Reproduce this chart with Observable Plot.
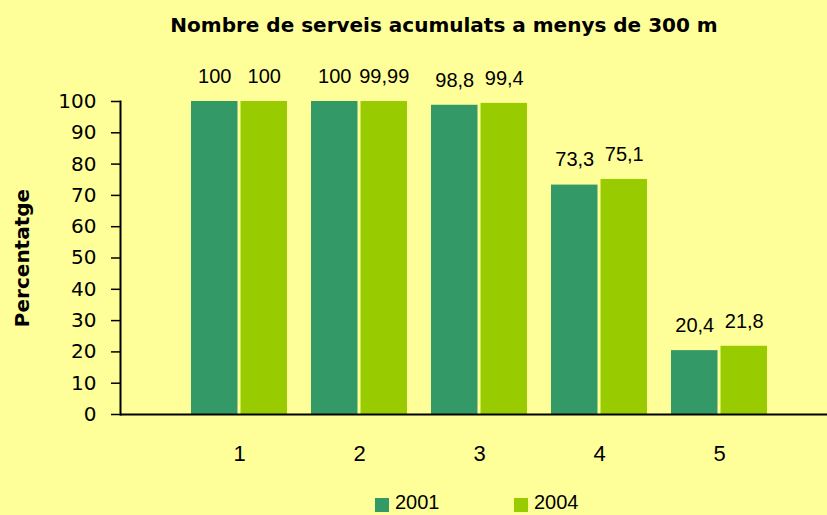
<!DOCTYPE html>
<html>
<head>
<meta charset="utf-8">
<script src="https://cdn.jsdelivr.net/npm/d3@7"></script>
<script src="https://cdn.jsdelivr.net/npm/@observablehq/plot@0.6"></script>
<style>
  html, body { margin: 0; padding: 0; background: #FFFF99; overflow: hidden; width: 827px; height: 515px; }
  #title { height: 24px; padding: 13px 0 13px 61px; line-height: 24px; text-align: center;
           font-family: "DejaVu Sans", sans-serif; font-weight: bold; font-size: 20px; color: #000; }
  #chart svg { display: block; }
  #legend { position: relative; height: 25px; font-family: "Liberation Sans", Arial, sans-serif; font-size: 20px; color: #000; }
  #legend .sw { position: absolute; top: 8px; width: 14px; height: 14px; }
  #legend .lb { position: absolute; top: 1px; line-height: normal; }
</style>
</head>
<body>
<div id="title">Nombre de serveis acumulats a menys de 300 m</div>
<div id="chart"></div>
<div id="legend"></div>
<script>
const categories = ["1", "2", "3", "4", "5"];
const seriesNames = ["2001", "2004"];
const values2001 = [100, 100, 98.8, 73.3, 20.4];
const values2004 = [100, 99.99, 99.4, 75.1, 21.8];
const labels2001 = ["100", "100", "98,8", "73,3", "20,4"];
const labels2004 = ["100", "99,99", "99,4", "75,1", "21,8"];
const yTicks = [0, 10, 20, 30, 40, 50, 60, 70, 80, 90, 100];
const seriesColors = ["#339966", "#99CC00"];
const yLabel = "Percentatge";

const rows = categories.map((c, i) => ({
  cat: c, v2001: values2001[i], v2004: values2004[i], l2001: labels2001[i], l2004: labels2004[i]
}));

const chart = Plot.plot({
  width: 827,
  height: 440,
  marginTop: 51,
  marginBottom: 76,
  marginLeft: 120,
  marginRight: 0,
  style: { background: "#FFFF99", fontFamily: "DejaVu Sans", fontSize: "20px", color: "black", overflow: "visible" },
  x: { domain: categories, paddingInner: 0.2, paddingOuter: 0.1, insetLeft: 59, insetRight: 48, label: null },
  y: { domain: [0, 100], label: null },
  marks: [
    Plot.barY(rows, { x: "cat", y: "v2001", fill: seriesColors[0], insetRight: 49.5 }),
    Plot.barY(rows, { x: "cat", y: "v2004", fill: seriesColors[1], insetLeft: 49.5 }),
    Plot.text(rows, { x: "cat", y: "v2001", text: "l2001", dx: -24.75, dy: -25, fontFamily: "Liberation Sans", fontSize: 20, fill: "black" }),
    Plot.text(rows, { x: "cat", y: "v2004", text: "l2004", dx: 24.75, dy: -25, fontFamily: "Liberation Sans", fontSize: 20, fill: "black" }),
    Plot.ruleY([0], { stroke: "black", strokeWidth: 2 }),
    Plot.frame({ anchor: "left", stroke: "black", strokeWidth: 2 }),
    Plot.axisY({ ticks: yTicks, tickSize: 9, tickPadding: 15, label: null, strokeWidth: 1.5, fontSize: 20 }),
    Plot.axisX({ tickSize: 0, tickPadding: 31, label: null, fontSize: 22, fontFamily: "Liberation Sans" }),
    Plot.text([yLabel], { frameAnchor: "left", textAnchor: "middle", rotate: -90, dx: -98, fontWeight: "bold", fontSize: 20, fill: "black" })
  ]
});
document.getElementById("chart").appendChild(chart);

const legend = document.getElementById("legend");
const legendX = [[375, 395], [514, 534]];
seriesNames.forEach((name, i) => {
  const sw = document.createElement("div");
  sw.className = "sw";
  sw.style.left = legendX[i][0] + "px";
  sw.style.background = seriesColors[i];
  legend.appendChild(sw);
  const lb = document.createElement("div");
  lb.className = "lb";
  lb.style.left = legendX[i][1] + "px";
  lb.textContent = name;
  legend.appendChild(lb);
});
</script>
</body>
</html>
